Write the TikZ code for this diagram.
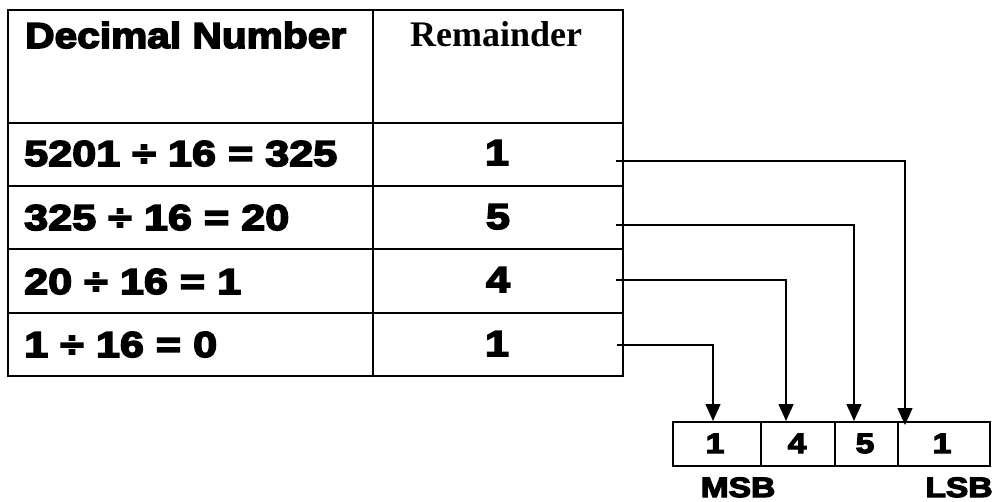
\documentclass[tikz,border=0pt]{standalone}
\usepackage{fontspec}
\usetikzlibrary{arrows.meta}
% heavy sans for the labels and numbers, serif bold for the column title
\newfontfamily\heavy{Liberation Sans Bold}[FakeBold=4.5,FakeStretch=1.13]
\newfontfamily\heavywide{Liberation Sans Bold}[FakeBold=4.5,FakeStretch=1.2]
\newfontfamily\titleserif{Liberation Serif Bold}
\begin{document}
\begin{tikzpicture}[x=1pt,y=-1pt,
  grid/.style={line width=2.6pt},
  conn/.style={line width=1.3pt},
  arr/.style={conn,-{Triangle[width=15pt,length=17pt]}},
  cell/.style={draw,line width=2pt,minimum height=44pt,inner sep=0pt,anchor=north west},
  htext/.style={font=\heavy\fontsize{36}{36}\selectfont,inner sep=0pt},
  rtext/.style={font=\heavywide\fontsize{36}{36}\selectfont,inner sep=0pt},
  boxtext/.style={font=\heavywide\fontsize{28}{28}\selectfont,inner sep=0pt},
  ttext/.style={font=\titleserif\fontsize{36}{36}\selectfont,inner sep=0pt}]
\useasboundingbox (0,0) rectangle (995,501);

% table frame and rules
\draw[grid] (8,10) rectangle (623,376);
\draw[grid] (373,10) -- (373,376);
\foreach \y in {123,186,249,313} \draw[grid] (8,\y) -- (623,\y);

% header
\node[htext,anchor=base west] (hdec) at (25,48) {Decimal Number};
\node[ttext,anchor=base west] (hrem) at (410,46) {Remainder};

% division steps
\node[rtext,anchor=base west] (d1) at (24,166) {5201 ÷ 16 = 325};
\node[rtext,anchor=base west] (d2) at (24,230) {325 ÷ 16 = 20};
\node[rtext,anchor=base west] (d3) at (24,294) {20 ÷ 16 = 1};
\node[rtext,anchor=base west] (d4) at (24,357) {1 ÷ 16 = 0};

% remainders
\node[rtext,anchor=base] (m1) at (497,165) {1};
\node[rtext,anchor=base] (m2) at (498,229) {5};
\node[rtext,anchor=base] (m3) at (498,292) {4};
\node[rtext,anchor=base] (m4) at (497,356) {1};

% result register
\node[cell,minimum width=88pt] (c1) at (672,421) {};
\node[cell,minimum width=74pt] (c2) at (760,421) {};
\node[cell,minimum width=63pt] (c3) at (834,421) {};
\node[cell,minimum width=92pt] (c4) at (897,421) {};
\node[boxtext,anchor=base] (v1) at (715,453) {1};
\node[boxtext,anchor=base] (v2) at (797,453) {4};
\node[boxtext,anchor=base] (v3) at (865,453) {5};
\node[boxtext,anchor=base] (v4) at (942,453) {1};
\node[boxtext,anchor=base] (msb) at (738,497) {MSB};
\node[boxtext,anchor=base] (lsb) at (959,497) {LSB};

% connector ends
\coordinate (s1) at (616,161);
\coordinate (s2) at (616,225);
\coordinate (s3) at (616,280);
\coordinate (s4) at (617,345);
\coordinate (t1) at (905,425);
\coordinate (t2) at (854,421);
\coordinate (t3) at (786,421);
\coordinate (t4) at (713,421);

\draw[arr] (s1) -| (t1);
\draw[arr] (s2) -| (t2);
\draw[arr] (s3) -| (t3);
\draw[arr] (s4) -| (t4);
\end{tikzpicture}
\end{document}
